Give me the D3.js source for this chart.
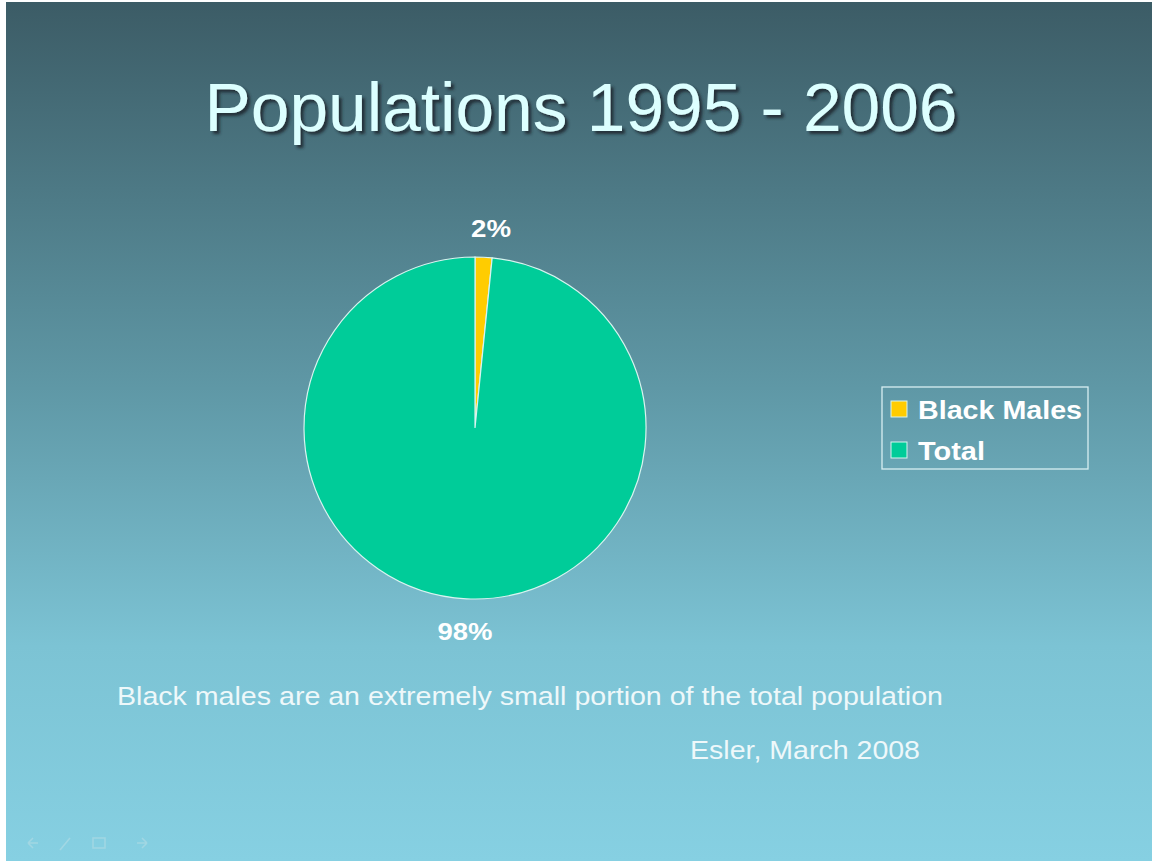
<!DOCTYPE html>
<html><head><meta charset="utf-8">
<script src="https://cdn.jsdelivr.net/npm/d3@7"></script>
<style>body{margin:0;overflow:hidden}</style>
</head><body>
<script>
const categories = ["Black Males", "Total"];
const values = [1.6, 98.4];
const sliceLabels = ["2%", "98%"];
const colors = ["#ffcc00", "#00cc99"];

const W = 1153, H = 861;
const FONT = "'Liberation Sans', Arial, sans-serif";
const svg = d3.select("body").append("svg").attr("width", W).attr("height", H);
const defs = svg.append("defs");
const g = defs.append("linearGradient").attr("id","bg").attr("x1",0).attr("y1",0).attr("x2",0).attr("y2",1);
g.append("stop").attr("offset","0%").attr("stop-color","#3c5c66");
g.append("stop").attr("offset","45%").attr("stop-color","#5f98a6");
g.append("stop").attr("offset","75%").attr("stop-color","#7cc3d4");
g.append("stop").attr("offset","100%").attr("stop-color","#86d0e2");
svg.append("rect").attr("width",W).attr("height",H).attr("fill","#ffffff");
svg.append("rect").attr("x",6).attr("y",2).attr("width",W-7).attr("height",H-2).attr("fill","url(#bg)");

const f = defs.append("filter").attr("id","sh").attr("x","-10%").attr("y","-10%").attr("width","120%").attr("height","130%");
f.append("feDropShadow").attr("dx",3).attr("dy",3).attr("stdDeviation",1.5).attr("flood-color","#1a2a30").attr("flood-opacity",0.9);

svg.append("text").attr("x",581).attr("y",131).attr("text-anchor","middle")
  .attr("font-family",FONT).attr("font-size",68)
  .attr("textLength",753).attr("lengthAdjust","spacingAndGlyphs")
  .attr("fill","#dcffff").attr("filter","url(#sh)").text("Populations 1995 - 2006");

const cx = 475, cy = 428, r = 171;
const pie = d3.pie().sort(null).value(d => d)(values);
const arc = d3.arc().innerRadius(0).outerRadius(r);
const pg = svg.append("g").attr("transform",`translate(${cx},${cy})`);
pg.selectAll("path").data(pie).join("path")
  .attr("d", arc).attr("fill",(d,i)=>colors[i])
  .attr("stroke","#d8f4f0").attr("stroke-width",1.2);

const labelPos = [[491-cx, 237-cy],[465-cx, 640-cy]];
const labelW = [40, 55];
pg.selectAll("text.lbl").data(pie).join("text").attr("class","lbl")
  .attr("x",(d,i)=>labelPos[i][0]).attr("y",(d,i)=>labelPos[i][1])
  .attr("text-anchor","middle").attr("font-family",FONT)
  .attr("font-weight","bold").attr("font-size",23).attr("fill","#ffffff")
  .attr("textLength",(d,i)=>labelW[i]).attr("lengthAdjust","spacingAndGlyphs")
  .text((d,i)=>sliceLabels[i]);

// legend
const legW = [164, 67];
const lg = svg.append("g");
lg.append("rect").attr("x",882).attr("y",387).attr("width",206).attr("height",82)
  .attr("fill","none").attr("stroke","#d8eef2").attr("stroke-width",1.3);
categories.forEach((c,i)=>{
  const y = 410 + i*41;
  lg.append("rect").attr("x",891).attr("y",y-9).attr("width",16).attr("height",16)
    .attr("fill",colors[i]).attr("stroke","#d8f4f0").attr("stroke-width",1);
  lg.append("text").attr("x",918).attr("y",y+9).attr("font-family",FONT)
    .attr("font-weight","bold").attr("font-size",25).attr("fill","#ffffff")
    .attr("textLength",legW[i]).attr("lengthAdjust","spacingAndGlyphs").text(c);
});

svg.append("text").attr("x",117).attr("y",705).attr("font-family",FONT)
  .attr("font-size",25).attr("fill","#eef8fa")
  .attr("textLength",826).attr("lengthAdjust","spacingAndGlyphs")
  .text("Black males are an extremely small portion of the total population");
svg.append("text").attr("x",690).attr("y",759).attr("font-family",FONT)
  .attr("font-size",25).attr("fill","#eef8fa")
  .attr("textLength",230).attr("lengthAdjust","spacingAndGlyphs")
  .text("Esler, March 2008");

// faint navigation icons
const nav = svg.append("g").attr("fill","none").attr("stroke","#a9d9e4").attr("stroke-width",1.5).attr("opacity",0.8);
nav.append("path").attr("d","M38 843 l-10 0 m0 0 l5 -5 m-5 5 l5 5");
nav.append("path").attr("d","M60 850 l10 -12");
nav.append("rect").attr("x",93).attr("y",838).attr("width",12).attr("height",10);
nav.append("path").attr("d","M137 843 l10 0 m0 0 l-5 -5 m5 5 l-5 5");
</script>
</body></html>
